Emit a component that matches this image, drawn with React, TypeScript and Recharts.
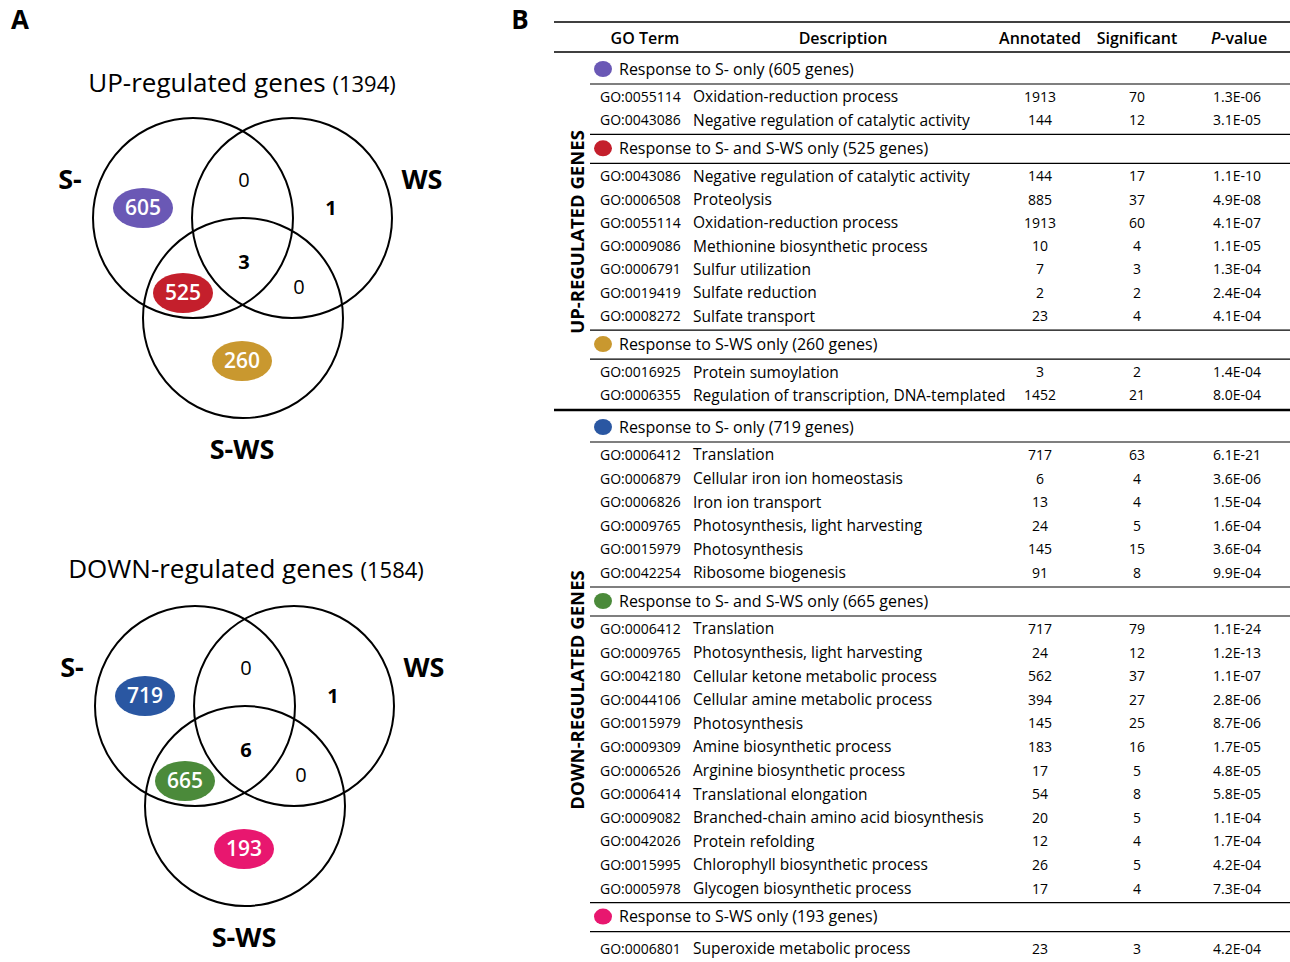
import { ScatterChart, Scatter, XAxis, YAxis } from 'recharts'

const FONT = '"Open Sans", sans-serif'

// Venn diagrams
const upCounts = { sOnly: 605, both: 525, swsOnly: 260, sWs: 0, wsOnly: 1, all: 3, wsSws: 0 }
const downCounts = { sOnly: 719, both: 665, swsOnly: 193, sWs: 0, wsOnly: 1, all: 6, wsSws: 0 }
const upColors = ['#6a58b5', '#c41f2c', '#c9982f']
const downColors = ['#2a57a2', '#4b8a3a', '#e8176f']

// Table
const upGroups = [
  { color: '#6a58b5', title: 'Response to S- only (605 genes)', rows: [
    ['GO:0055114', 'Oxidation-reduction process', '1913', '70', '1.3E-06'],
    ['GO:0043086', 'Negative regulation of catalytic activity', '144', '12', '3.1E-05'],
  ] },
  { color: '#c41f2c', title: 'Response to S- and S-WS only (525 genes)', rows: [
    ['GO:0043086', 'Negative regulation of catalytic activity', '144', '17', '1.1E-10'],
    ['GO:0006508', 'Proteolysis', '885', '37', '4.9E-08'],
    ['GO:0055114', 'Oxidation-reduction process', '1913', '60', '4.1E-07'],
    ['GO:0009086', 'Methionine biosynthetic process', '10', '4', '1.1E-05'],
    ['GO:0006791', 'Sulfur utilization', '7', '3', '1.3E-04'],
    ['GO:0019419', 'Sulfate reduction', '2', '2', '2.4E-04'],
    ['GO:0008272', 'Sulfate transport', '23', '4', '4.1E-04'],
  ] },
  { color: '#c9982f', title: 'Response to S-WS only (260 genes)', rows: [
    ['GO:0016925', 'Protein sumoylation', '3', '2', '1.4E-04'],
    ['GO:0006355', 'Regulation of transcription, DNA-templated', '1452', '21', '8.0E-04'],
  ] },
]
const downGroups = [
  { color: '#2a57a2', title: 'Response to S- only (719 genes)', rows: [
    ['GO:0006412', 'Translation', '717', '63', '6.1E-21'],
    ['GO:0006879', 'Cellular iron ion homeostasis', '6', '4', '3.6E-06'],
    ['GO:0006826', 'Iron ion transport', '13', '4', '1.5E-04'],
    ['GO:0009765', 'Photosynthesis, light harvesting', '24', '5', '1.6E-04'],
    ['GO:0015979', 'Photosynthesis', '145', '15', '3.6E-04'],
    ['GO:0042254', 'Ribosome biogenesis', '91', '8', '9.9E-04'],
  ] },
  { color: '#4b8a3a', title: 'Response to S- and S-WS only (665 genes)', rows: [
    ['GO:0006412', 'Translation', '717', '79', '1.1E-24'],
    ['GO:0009765', 'Photosynthesis, light harvesting', '24', '12', '1.2E-13'],
    ['GO:0042180', 'Cellular ketone metabolic process', '562', '37', '1.1E-07'],
    ['GO:0044106', 'Cellular amine metabolic process', '394', '27', '2.8E-06'],
    ['GO:0015979', 'Photosynthesis', '145', '25', '8.7E-06'],
    ['GO:0009309', 'Amine biosynthetic process', '183', '16', '1.7E-05'],
    ['GO:0006526', 'Arginine biosynthetic process', '17', '5', '4.8E-05'],
    ['GO:0006414', 'Translational elongation', '54', '8', '5.8E-05'],
    ['GO:0009082', 'Branched-chain amino acid biosynthesis', '20', '5', '1.1E-04'],
    ['GO:0042026', 'Protein refolding', '12', '4', '1.7E-04'],
    ['GO:0015995', 'Chlorophyll biosynthetic process', '26', '5', '4.2E-04'],
    ['GO:0005978', 'Glycogen biosynthetic process', '17', '4', '7.3E-04'],
  ] },
  { color: '#e8176f', title: 'Response to S-WS only (193 genes)', rows: [
    ['GO:0006801', 'Superoxide metabolic process', '23', '3', '4.2E-04'],
  ] },
]

function vennPoints(c: typeof upCounts, colors: string[], ox: number, oy: number) {
  const circles = [
    { x: ox, y: oy, r: 100 },
    { x: ox + 99, y: oy, r: 100 },
    { x: ox + 50, y: oy + 100, r: 100 },
  ]
  const ellipses = [
    { x: ox - 50, y: oy - 10, label: c.sOnly, color: colors[0] },
    { x: ox - 10, y: oy + 75, label: c.both, color: colors[1] },
    { x: ox + 49, y: oy + 143, label: c.swsOnly, color: colors[2] },
  ]
  const texts = [
    { x: ox + 51, y: oy - 38, t: String(c.sWs), size: 20, w: 400 },
    { x: ox + 138, y: oy - 10, t: String(c.wsOnly), size: 20, w: 700 },
    { x: ox + 51, y: oy + 44, t: String(c.all), size: 20, w: 700 },
    { x: ox + 106, y: oy + 69, t: String(c.wsSws), size: 20, w: 400 },
    { x: ox - 123, y: oy - 38, t: 'S-', size: 27, w: 700 },
    { x: ox + 229, y: oy - 38, t: 'WS', size: 27, w: 700 },
    { x: ox + 49, y: oy + 232, t: 'S-WS', size: 27, w: 700 },
  ]
  return { circles, ellipses, texts }
}

function tableRows(groups: typeof upGroups, startY: number, step: number) {
  const out: any[] = []
  let y = startY
  groups.forEach((g, gi) => {
    if (gi > 0) { y += 28; out.push({ x: 590, y: y - 14, kind: 'line' }) }
    out.push({ x: 600, y, kind: 'head', color: g.color, t: g.title })
    out.push({ x: 590, y: y + 15, kind: 'line' })
    y += gi === 2 && g.rows.length === 1 ? 32 : 28
    g.rows.forEach((r, ri) => {
      if (ri > 0) y += step
      out.push({ x: 600, y, kind: 'row', r })
    })
  })
  return out
}

const up = vennPoints(upCounts, upColors, 193, 218)
const down = vennPoints(downCounts, downColors, 195, 706)
const rows = [...tableRows(upGroups, 69, 23.3), ...tableRows(downGroups, 427, 23.6)]
const titles = [
  { x: 242, y: 83, main: 'UP-regulated genes', n: '(1394)' },
  { x: 246, y: 569, main: 'DOWN-regulated genes', n: '(1584)' },
]
const letters = [{ x: 20, y: 20, t: 'A' }, { x: 520, y: 20, t: 'B' }]

const Circ = (p: any) => <circle cx={p.cx} cy={p.cy} r={p.payload.r} fill="none" stroke="#000" strokeWidth={2} />
const Ell = (p: any) => (
  <g>
    <ellipse cx={p.cx} cy={p.cy} rx={30} ry={20} fill={p.payload.color} />
    <text x={p.cx} y={p.cy} dy="0.35em" textAnchor="middle" fill="#fff" fontSize={21} fontWeight={600} fontFamily={FONT}>{p.payload.label}</text>
  </g>
)
const Txt = (p: any) => (
  <text x={p.cx} y={p.cy} dy="0.35em" textAnchor="middle" fontSize={p.payload.size} fontWeight={p.payload.w} fontFamily={FONT}>{p.payload.t}</text>
)
const Title = (p: any) => (
  <text x={p.cx} y={p.cy} dy="0.35em" textAnchor="middle" fontSize={26} fontFamily={FONT}>
    {p.payload.main} <tspan fontSize={22}>{p.payload.n}</tspan>
  </text>
)
const Letter = (p: any) => (
  <text x={p.cx} y={p.cy} dy="0.35em" textAnchor="middle" fontSize={26} fontWeight={700} fontFamily={FONT}>{p.payload.t}</text>
)
const Row = (p: any) => {
  const d = p.payload
  if (d.kind === 'line') return <line x1={p.cx} x2={p.cx + 700} y1={p.cy} y2={p.cy} stroke="#000" strokeWidth={1.2} />
  if (d.kind === 'head') return (
    <g fontFamily={FONT} fontSize={16}>
      <ellipse cx={p.cx + 3} cy={p.cy} rx={9} ry={8} fill={d.color} />
      <text x={p.cx + 19} y={p.cy} dy="0.35em">{d.t}</text>
    </g>
  )
  const r = d.r
  return (
    <g fontFamily={FONT} fontSize={14}>
      <text x={p.cx} y={p.cy} dy="0.35em">{r[0]}</text>
      <text x={p.cx + 93} y={p.cy} dy="0.35em" fontSize={15.5}>{r[1]}</text>
      <text x={p.cx + 440} y={p.cy} dy="0.35em" textAnchor="middle">{r[2]}</text>
      <text x={p.cx + 537} y={p.cy} dy="0.35em" textAnchor="middle">{r[3]}</text>
      <text x={p.cx + 613} y={p.cy} dy="0.35em">{r[4]}</text>
    </g>
  )
}
const Frame = (p: any) => (
  <g fontFamily={FONT} fontSize={16} fontWeight={600}>
    <line x1={p.cx} x2={1290} y1={p.cy} y2={p.cy} stroke="#000" strokeWidth={1.5} />
    <line x1={p.cx} x2={1290} y1={p.cy + 30} y2={p.cy + 30} stroke="#000" strokeWidth={1.5} />
    <line x1={p.cx} x2={1290} y1={p.cy + 388} y2={p.cy + 388} stroke="#000" strokeWidth={2.5} />
    <text x={645} y={p.cy + 16} dy="0.35em" textAnchor="middle">GO Term</text>
    <text x={843} y={p.cy + 16} dy="0.35em" textAnchor="middle">Description</text>
    <text x={1040} y={p.cy + 16} dy="0.35em" textAnchor="middle">Annotated</text>
    <text x={1137} y={p.cy + 16} dy="0.35em" textAnchor="middle">Significant</text>
    <text x={1239} y={p.cy + 16} dy="0.35em" textAnchor="middle"><tspan fontStyle="italic">P</tspan>-value</text>
    <text transform={`translate(584,232) rotate(-90)`} textAnchor="middle" fontSize={18.5} fontWeight={700}>UP-REGULATED GENES</text>
    <text transform={`translate(584,690) rotate(-90)`} textAnchor="middle" fontSize={18.5} fontWeight={700}>DOWN-REGULATED GENES</text>
  </g>
)

export default function App() {
  return (
    <div style={{ position: 'absolute', left: 0, top: 0, background: '#fff' }}>
      <ScatterChart width={1290} height={962} margin={{ top: 0, right: 0, bottom: 0, left: 0 }}>
        <XAxis type="number" dataKey="x" domain={[0, 1290]} hide />
        <YAxis type="number" dataKey="y" domain={[0, 962]} reversed hide />
        <Scatter data={[...up.circles, ...down.circles]} shape={Circ} isAnimationActive={false} />
        <Scatter data={[...up.ellipses, ...down.ellipses]} shape={Ell} isAnimationActive={false} />
        <Scatter data={[...up.texts, ...down.texts]} shape={Txt} isAnimationActive={false} />
        <Scatter data={titles} shape={Title} isAnimationActive={false} />
        <Scatter data={letters} shape={Letter} isAnimationActive={false} />
        <Scatter data={[{ x: 554, y: 22 }]} shape={Frame} isAnimationActive={false} />
        <Scatter data={rows} shape={Row} isAnimationActive={false} />
      </ScatterChart>
    </div>
  )
}
